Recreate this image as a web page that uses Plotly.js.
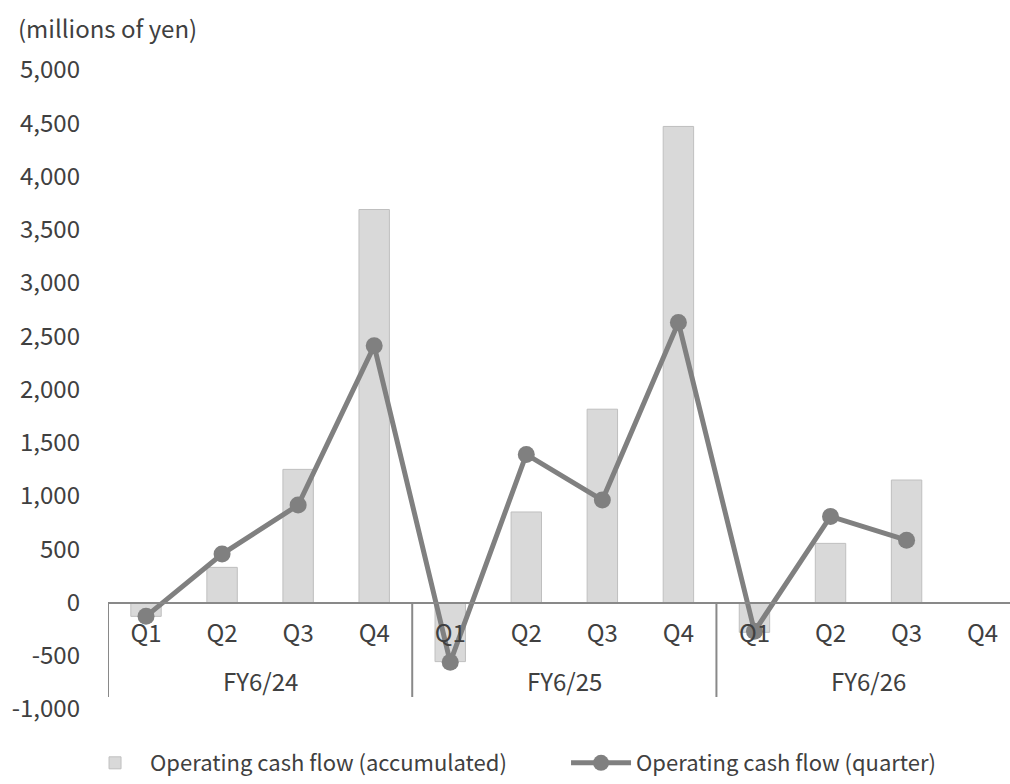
<!DOCTYPE html>
<html>
<head>
<meta charset="utf-8">
<script src="https://cdn.plot.ly/plotly-3.0.1.min.js"></script>
<style>html,body{margin:0;padding:0;background:#fff;}#chart{width:1010px;height:784px;}</style>
</head>
<body>
<div id="chart"></div>
<script>
var fiscalYears = ["FY6/24","FY6/24","FY6/24","FY6/24","FY6/25","FY6/25","FY6/25","FY6/25","FY6/26","FY6/26","FY6/26","FY6/26"];
var quarters = ["Q1","Q2","Q3","Q4","Q1","Q2","Q3","Q4","Q1","Q2","Q3","Q4"];
var accumulated = [-130, 330, 1250, 3690, -555, 850, 1815, 4470, -280, 555, 1150, null];
var quarterly = [-130, 455, 915, 2410, -560, 1390, 962, 2630, -270, 808, 585, null];
var yTickVals = [-1000, -500, 0, 500, 1000, 1500, 2000, 2500, 3000, 3500, 4000, 4500, 5000];
var yTickText = ["-1,000","-500","0","500","1,000","1,500","2,000","2,500","3,000","3,500","4,000","4,500","5,000"];

var FONT = "Noto Sans CJK JP, Noto Sans, sans-serif";
var TXT = "#404040";
var AXIS = "#898989";

// unique category keys (FY + quarter), shown with the quarter labels
var xKeys = fiscalYears.map(function (f, i) { return f + " " + quarters[i]; });

// group labels and dividers derived from the fiscal-year array
var groupAnn = [];
var dividerShapes = [];
var start = 0;
for (var i = 1; i <= fiscalYears.length; i++) {
  if (i === fiscalYears.length || fiscalYears[i] !== fiscalYears[start]) {
    groupAnn.push({
      text: fiscalYears[start],
      xref: "x", yref: "paper",
      x: (start + i - 1) / 2, y: 0.045,
      xanchor: "center", yanchor: "middle",
      showarrow: false,
      font: {family: FONT, size: 24, color: TXT}
    });
    dividerShapes.push({
      type: "line", xref: "x", yref: "paper",
      x0: start - 0.5, x1: start - 0.5, y0: 1 / 6, y1: 0.0188,
      line: {color: AXIS, width: 2}
    });
    start = i;
  }
}

var traces = [
  {
    type: "bar",
    name: "Operating cash flow (accumulated)",
    x: xKeys,
    y: accumulated,
    marker: {color: "#d9d9d9", line: {color: "#bfbfbf", width: 1}},
    hoverinfo: "y"
  },
  {
    type: "scatter",
    mode: "lines+markers",
    name: "Operating cash flow (quarter)",
    x: xKeys,
    y: quarterly,
    line: {color: "#808080", width: 5},
    marker: {color: "#808080", size: 17},
    hoverinfo: "y"
  }
];

var layout = {
  width: 1010,
  height: 784,
  paper_bgcolor: "#ffffff",
  plot_bgcolor: "#ffffff",
  font: {family: FONT, size: 24, color: TXT},
  margin: {l: 108, r: 0, t: 70, b: 75, autoexpand: false},
  bargap: 0.6,
  showlegend: true,
  legend: {
    orientation: "h",
    x: -0.031, xanchor: "left",
    y: -0.1174, yanchor: "bottom",
    itemwidth: 60,
    entrywidth: 411,
    entrywidthmode: "pixels",
    font: {family: FONT, size: 22, color: TXT},
    traceorder: "normal"
  },
  xaxis: {
    type: "category",
    anchor: "free",
    position: 1 / 6,
    range: [-0.5, 11.36],
    tickvals: xKeys,
    ticktext: quarters,
    showline: true,
    linecolor: AXIS,
    linewidth: 2,
    showgrid: false,
    zeroline: false,
    ticks: "",
    ticklabelstandoff: 10,
    tickfont: {family: FONT, size: 24, color: TXT}
  },
  yaxis: {
    range: [-1000, 5000],
    tickvals: yTickVals,
    ticktext: yTickText,
    showgrid: false,
    zeroline: false,
    showline: false,
    ticks: "",
    ticklabelstandoff: 27,
    tickfont: {family: FONT, size: 24, color: TXT}
  },
  shapes: dividerShapes,
  annotations: [
    {
      text: "(millions of yen)",
      xref: "paper", yref: "paper",
      x: -0.102, xanchor: "left",
      y: 1.066, yanchor: "middle",
      showarrow: false,
      font: {family: FONT, size: 24, color: TXT}
    }
  ].concat(groupAnn)
};

Plotly.newPlot("chart", traces, layout, {displayModeBar: false, staticPlot: true});
</script>
</body>
</html>
